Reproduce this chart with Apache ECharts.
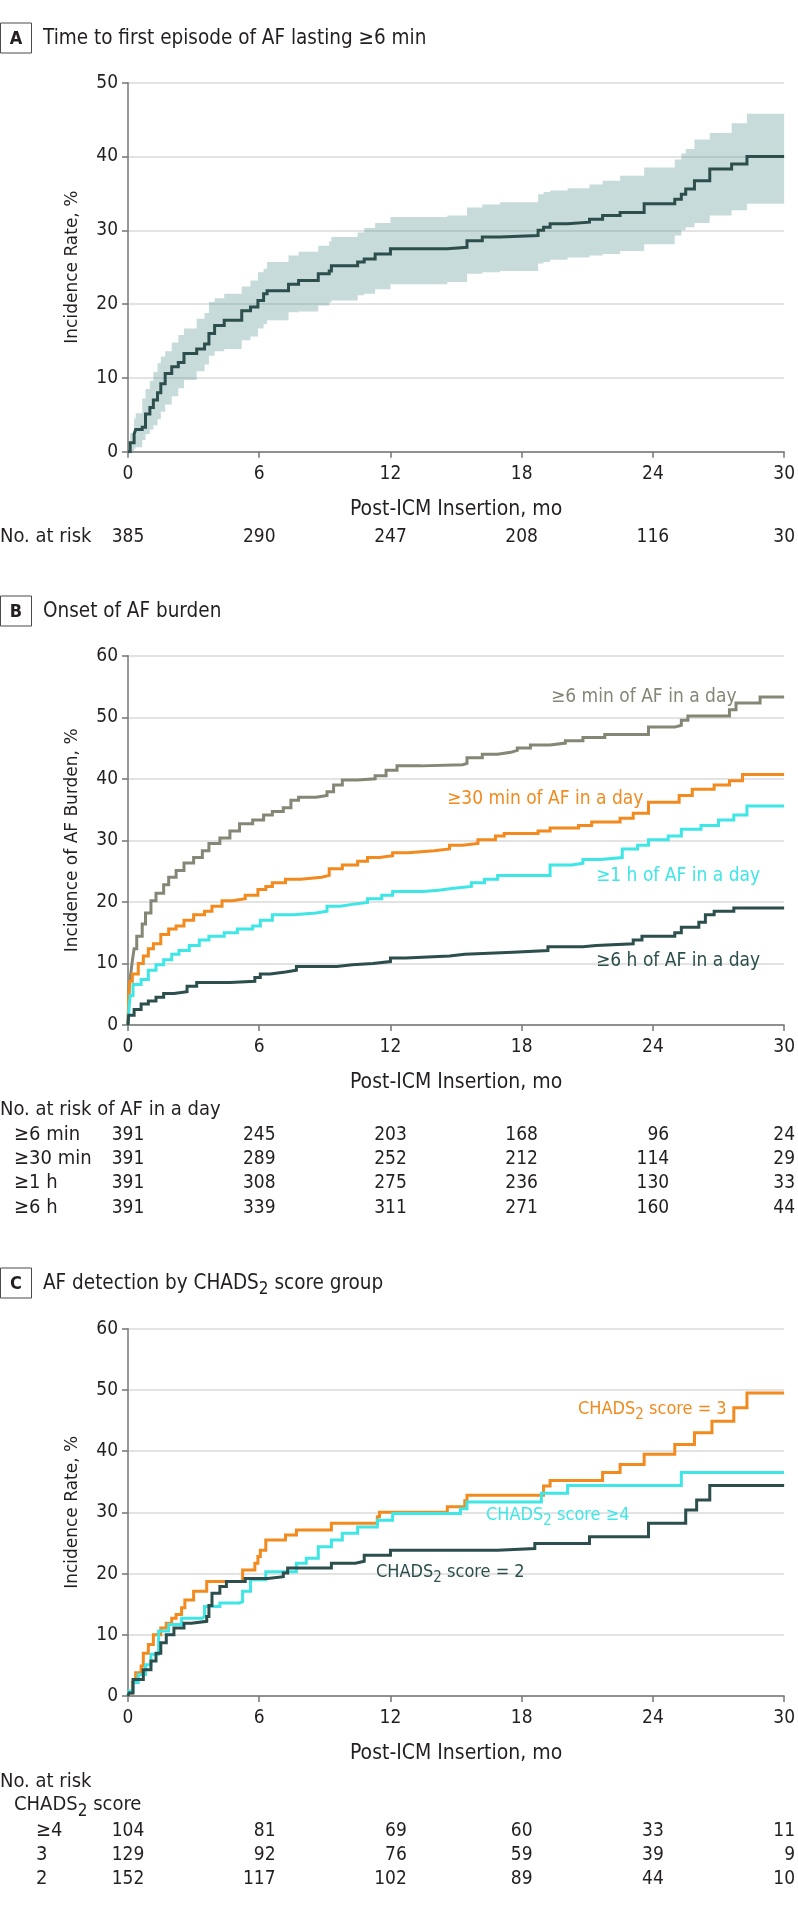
<!DOCTYPE html>
<html><head><meta charset="utf-8">
<script src="https://cdn.jsdelivr.net/npm/echarts@6/dist/echarts.min.js"></script>
<style>html,body{margin:0;padding:0;background:#fff}#c{width:798px;height:1908px}</style>
</head><body><div id="c"></div>
<script>
// ---------- data ----------
const xTicks = [0, 6, 12, 18, 24, 30];

// Panel A: time to first AF episode >=6 min (line + 95% CI band)
const aTime = [0, 0.1, 0.28, 0.35, 0.65, 0.8, 1.0, 1.16, 1.35, 1.5, 1.7, 2.0, 2.3, 2.56, 3.14, 3.5, 3.7, 3.96, 4.4, 5.2, 5.6, 5.94, 6.2, 6.36, 7.34, 7.8, 8.7, 9.2, 9.3, 10.5, 10.8, 11.3, 12.0, 14.6, 15.5, 16.2, 17.0, 18.75, 19.0, 19.3, 20.1, 21.1, 21.7, 22.5, 23.6, 25.0, 25.3, 25.5, 25.9, 26.6, 27.6, 28.3, 30];
const aRate = [0, 1.2, 2.4, 3.0, 3.3, 5.1, 6.0, 7.0, 8.0, 9.2, 10.6, 11.5, 12.1, 13.3, 13.9, 14.6, 16.0, 17.1, 17.8, 19.1, 19.6, 20.5, 21.4, 21.8, 22.7, 23.2, 24.1, 24.5, 25.2, 25.7, 26.1, 26.8, 27.5, 27.7, 28.6, 29.1, 29.3, 30.0, 30.4, 30.9, 31.1, 31.5, 32.0, 32.4, 33.6, 34.2, 34.9, 35.6, 36.7, 38.3, 39.0, 40.0, 40.0];
const aLower = [0, 0.1, 0.4, 0.6, 1.6, 2.4, 3.0, 3.6, 4.4, 5.4, 6.4, 7.5, 8.6, 9.7, 10.9, 11.8, 13.0, 13.6, 13.9, 15.1, 15.6, 16.7, 17.3, 17.8, 18.9, 19.0, 19.8, 20.2, 20.5, 21.2, 21.4, 22.0, 22.7, 23.0, 24.1, 24.3, 24.5, 25.5, 25.7, 26.0, 26.3, 26.6, 26.8, 27.2, 28.1, 29.3, 30.0, 30.4, 31.0, 32.0, 32.7, 33.6, 33.6];
const aUpper = [0, 2.5, 4.5, 5.2, 7.2, 8.5, 9.6, 10.8, 12.0, 12.9, 13.6, 14.8, 15.8, 16.7, 18.0, 18.8, 20.3, 20.8, 21.4, 22.4, 23.2, 24.3, 24.8, 25.7, 26.6, 27.1, 27.9, 28.5, 29.1, 29.7, 30.3, 31.0, 31.8, 32.0, 33.1, 33.5, 33.8, 34.9, 35.2, 35.4, 35.7, 36.2, 36.7, 37.4, 38.5, 39.6, 40.4, 41.0, 42.3, 43.2, 44.5, 45.8, 45.8];
const aRisk = [385, 290, 247, 208, 116, 30];

// Panel B: onset of AF burden
const bMin6Time = [0, 0.03, 0.06, 0.15, 0.2, 0.28, 0.4, 0.65, 0.8, 1.05, 1.28, 1.63, 1.86, 2.2, 2.56, 3.0, 3.4, 3.7, 4.2, 4.66, 5.1, 5.7, 6.2, 6.6, 7.1, 7.45, 7.8, 8.6, 9.1, 9.4, 9.8, 10.5, 11.3, 11.8, 12.3, 13.4, 15.3, 15.5, 16.2, 16.9, 17.5, 17.8, 18.4, 19.3, 20.0, 20.8, 21.8, 23.8, 25.0, 25.3, 25.6, 27.5, 27.8, 28.9, 30];
const bMin6 = [0, 3, 6.6, 9, 10.5, 12.4, 14.4, 16.4, 18.2, 20.2, 21.4, 22.8, 24.0, 25.1, 26.3, 27.2, 28.3, 29.5, 30.4, 31.5, 32.7, 33.3, 34.1, 34.7, 35.3, 36.5, 37.0, 37.3, 37.9, 39.0, 39.8, 40.0, 40.5, 41.4, 42.1, 42.3, 42.5, 43.4, 44.0, 44.3, 44.6, 45.0, 45.5, 45.8, 46.2, 46.7, 47.2, 48.4, 48.7, 49.5, 50.2, 51.2, 52.3, 53.3, 53.3];
const bMin30Time = [0, 0.03, 0.08, 0.2, 0.47, 0.7, 0.93, 1.16, 1.5, 1.86, 2.2, 2.56, 3.0, 3.5, 3.84, 4.3, 4.78, 5.36, 5.94, 6.3, 6.6, 7.2, 7.9, 8.85, 9.2, 9.8, 10.5, 10.95, 11.5, 12.1, 12.8, 14.0, 14.7, 15.3, 16.0, 16.8, 17.2, 18.75, 19.3, 20.6, 21.2, 22.5, 23.1, 23.8, 25.2, 25.8, 26.8, 27.5, 28.1, 30];
const bMin30 = [0, 5, 7.1, 8.3, 10, 11.2, 12.4, 13.2, 14.7, 15.6, 16.1, 17.0, 17.9, 18.5, 19.3, 20.2, 20.5, 21.1, 22.0, 22.5, 23.1, 23.7, 24.0, 24.3, 25.4, 26.0, 26.6, 27.2, 27.5, 28.0, 28.3, 28.6, 29.2, 29.5, 30.1, 30.7, 31.1, 31.5, 32.0, 32.4, 33.0, 33.6, 34.4, 36.2, 37.3, 38.3, 39.0, 39.7, 40.7, 40.7];
const bH1Time = [0, 0.05, 0.1, 0.23, 0.6, 0.93, 1.28, 1.63, 2.0, 2.33, 2.8, 3.26, 3.7, 4.4, 5.0, 5.7, 6.05, 6.6, 7.57, 8.6, 9.1, 9.7, 10.25, 10.95, 11.6, 12.1, 13.5, 14.2, 14.9, 15.7, 16.3, 16.9, 19.3, 20.3, 20.8, 21.6, 22.6, 23.3, 23.8, 24.7, 25.3, 26.2, 27.0, 27.7, 28.3, 30];
const bH1 = [0, 3, 4.8, 6.6, 7.4, 8.9, 9.8, 10.6, 11.5, 12.1, 12.9, 13.8, 14.4, 15.0, 15.6, 16.1, 17.0, 17.9, 18.2, 18.5, 19.3, 19.6, 19.9, 20.5, 21.1, 21.7, 21.9, 22.2, 22.5, 23.1, 23.7, 24.3, 26.0, 26.3, 26.9, 27.2, 28.6, 29.2, 30.1, 30.7, 31.8, 32.4, 33.3, 34.1, 35.6, 35.6];
const bH6Time = [0, 0.03, 0.28, 0.6, 0.93, 1.28, 1.63, 2.1, 2.7, 3.14, 4.66, 5.8, 6.05, 6.5, 7.2, 7.7, 9.55, 10.25, 11.2, 12.0, 12.7, 14.7, 15.4, 17.6, 19.2, 20.8, 21.4, 23.1, 23.5, 25.0, 25.3, 26.1, 26.4, 26.8, 27.7, 30];
const bH6 = [0, 1.6, 2.5, 3.4, 3.9, 4.5, 5.1, 5.4, 6.3, 6.9, 7.1, 7.7, 8.3, 8.6, 8.9, 9.5, 9.8, 10.0, 10.3, 10.9, 11.2, 11.5, 11.8, 12.1, 12.7, 12.9, 13.2, 13.8, 14.4, 15.0, 15.9, 16.7, 17.9, 18.5, 19.0, 19.0];
const bRiskMin6 = [391, 245, 203, 168, 96, 24];
const bRiskMin30 = [391, 289, 252, 212, 114, 29];
const bRiskH1 = [391, 308, 275, 236, 130, 33];
const bRiskH6 = [391, 339, 311, 271, 160, 44];
const bRowLabels = ['≥6 min', '≥30 min', '≥1 h', '≥6 h'];

// Panel C: AF detection by CHADS2 score group
const cS3Time = [0, 0.05, 0.2, 0.35, 0.6, 0.7, 0.93, 1.16, 1.5, 1.75, 2.0, 2.2, 2.45, 2.6, 3.0, 3.6, 5.24, 5.8, 5.94, 6.05, 6.3, 7.2, 7.7, 9.3, 11.4, 11.5, 14.6, 15.4, 15.5, 19.0, 19.3, 21.7, 22.5, 23.6, 25.0, 25.9, 26.7, 27.7, 28.3, 30];
const cS3 = [0, 0.5, 2.2, 3.8, 4.9, 7.0, 8.4, 10.0, 11.1, 11.9, 12.7, 13.3, 14.4, 15.7, 17.1, 18.7, 20.6, 21.7, 22.8, 23.8, 25.5, 26.3, 27.1, 28.2, 29.3, 30.0, 30.9, 31.9, 32.8, 34.3, 35.2, 36.5, 37.8, 39.5, 41.1, 43.0, 44.9, 47.1, 49.5, 49.5];
const cS4Time = [0, 0.05, 0.23, 0.47, 0.8, 1.05, 1.4, 1.86, 2.45, 3.4, 3.5, 4.2, 5.1, 5.24, 5.6, 6.3, 7.7, 8.15, 8.7, 9.3, 9.8, 10.5, 11.4, 12.1, 15.2, 15.5, 18.9, 20.1, 25.3, 30];
const cS4 = [0, 0.8, 2.2, 3.5, 5.1, 6.8, 10.6, 11.7, 12.7, 13.0, 14.6, 15.2, 15.4, 17.1, 19.0, 20.3, 21.7, 22.5, 24.4, 25.5, 26.6, 27.6, 28.7, 29.8, 30.6, 31.7, 33.1, 34.4, 36.5, 36.5];
const cS2Time = [0, 0.05, 0.23, 0.7, 1.05, 1.28, 1.5, 1.75, 2.1, 2.56, 2.9, 3.6, 3.7, 3.84, 4.2, 4.5, 5.36, 6.4, 7.1, 7.3, 9.3, 10.4, 10.8, 12.0, 16.9, 18.6, 21.1, 23.8, 25.5, 26.0, 26.6, 30];
const cS2 = [0, 0.5, 2.7, 4.3, 5.7, 7.0, 8.7, 10.0, 11.1, 11.9, 12.2, 13.0, 14.8, 16.8, 17.9, 18.7, 19.2, 19.5, 20.1, 20.9, 21.7, 22.0, 23.0, 23.8, 24.1, 24.9, 26.0, 28.2, 30.4, 32.0, 34.4, 34.4];
const cRiskS4 = [104, 81, 69, 60, 33, 11];
const cRiskS3 = [129, 92, 76, 59, 39, 9];
const cRiskS2 = [152, 117, 102, 89, 44, 10];
const cRowLabels = ['≥4', '3', '2'];

// ---------- style ----------
const COND = "'DejaVu Sans Condensed','Roboto Condensed',sans-serif";
const WIDE = "'DejaVu Sans',Verdana,sans-serif";
const INK = '#231f20';
const AXC = '#767676';
const C_DARK = '#2c4e4d', C_GRAY = '#858675', C_OR = '#f28a1e', C_CY = '#3fe6e6';
const FS_TICK = 19, FS_NUM = 19, FS_NAME = 21, FS_TITLE = 20.5, FS_LAB = 19, FS_LABC = 18, FS_ROW = 20;

function zip(t, v) { return t.map((x, i) => [x, v[i]]); }

const chart = echarts.init(document.getElementById('c'), null, { renderer: 'canvas' });

function xAxis(i) {
  return { type: 'value', gridIndex: i, min: 0, max: 30, interval: 6,
    name: 'Post-ICM Insertion, mo', nameLocation: 'middle', nameGap: 47,
    nameTextStyle: { fontFamily: COND, fontSize: FS_NAME, color: INK },
    axisLine: { show: true, onZero: false, lineStyle: { color: AXC, width: 1.5 } },
    axisTick: { show: true, length: 6, lineStyle: { color: AXC, width: 1.5 } },
    axisLabel: { fontFamily: COND, fontSize: FS_TICK, color: INK, margin: 13 },
    splitLine: { show: false } };
}
function yAxis(i, max, name) {
  return { type: 'value', gridIndex: i, min: 0, max: max, interval: 10,
    name: name, nameLocation: 'middle', nameGap: 47,
    nameTextStyle: { fontFamily: WIDE, fontSize: 17, color: INK },
    axisLine: { show: true, lineStyle: { color: AXC, width: 1.5 } },
    axisTick: { show: true, length: 6, lineStyle: { color: AXC, width: 1.5 } },
    axisLabel: { fontFamily: COND, fontSize: FS_TICK, color: INK, margin: 10 },
    splitLine: { show: true, lineStyle: { color: '#dadada', width: 1.5 } } };
}
function stepLine(gi, data, color, width, z) {
  return { type: 'line', xAxisIndex: gi, yAxisIndex: gi, data: data, step: 'end',
    symbol: 'none', silent: true, z: z || 3,
    lineStyle: { color: color, width: width, join: 'miter', cap: 'butt' } };
}

// confidence band drawn as a stepped polygon through the axis scales
const bandSeries = {
  type: 'custom', xAxisIndex: 0, yAxisIndex: 0, silent: true, z: 2, clip: true,
  data: [[0, 0]],
  renderItem: function (params, api) {
    const up = [], lo = [];
    for (let i = 0; i < aTime.length; i++) {
      const t0 = aTime[i], t1 = i + 1 < aTime.length ? aTime[i + 1] : aTime[i];
      up.push(api.coord([t0, aUpper[i]]), api.coord([t1, aUpper[i]]));
      lo.push(api.coord([t0, aLower[i]]), api.coord([t1, aLower[i]]));
    }
    return { type: 'polygon', shape: { points: up.concat(lo.reverse()) },
      style: { fill: '#5f9595', opacity: 0.34 } };
  }
};

const option = {
  animation: false,
  backgroundColor: '#fff',
  grid: [
    { left: 128, top: 82.7, width: 659, height: 369 },
    { left: 128, top: 655.7, width: 659, height: 369.3 },
    { left: 128, top: 1328.7, width: 659, height: 367.3 }
  ],
  xAxis: [xAxis(0), xAxis(1), xAxis(2)],
  yAxis: [yAxis(0, 50, 'Incidence Rate, %'), yAxis(1, 60, 'Incidence of AF Burden, %'), yAxis(2, 60, 'Incidence Rate, %')],
  series: [
    bandSeries,
    stepLine(0, zip(aTime, aRate), C_DARK, 3, 4),
    stepLine(1, zip(bMin6Time, bMin6), C_GRAY, 3),
    stepLine(1, zip(bMin30Time, bMin30), C_OR, 3),
    stepLine(1, zip(bH1Time, bH1), C_CY, 3),
    stepLine(1, zip(bH6Time, bH6), C_DARK, 3),
    stepLine(2, zip(cS3Time, cS3), C_OR, 3),
    stepLine(2, zip(cS4Time, cS4), C_CY, 3),
    stepLine(2, zip(cS2Time, cS2), C_DARK, 3)
  ]
};
chart.setOption(option);

// ---------- text overlays (titles, labels, at-risk tables) ----------
const mctx = document.createElement('canvas').getContext('2d');
mctx.font = FS_NUM + 'px ' + COND;
function tw(s) { return mctx.measureText(String(s)).width; }

const G = [];
function txt(x, y, text, opts) {
  opts = opts || {};
  G.push({ type: 'text', x: x, y: y, silent: true, z: 100,
    style: { text: text, fill: opts.fill || INK, align: opts.align || 'left', verticalAlign: 'middle',
      font: (opts.weight || 'normal') + ' ' + (opts.size || FS_ROW) + 'px ' + (opts.family || COND) } });
}
// text with subscripts: parts = [[text, isSub], ...]
function subTxt(x, y, parts, opts) {
  opts = opts || {};
  const fill = opts.fill || INK, size = opts.size || FS_ROW;
  const sSize = Math.round(size * 0.85);
  const L = Math.round(size / 2 + 6 + sSize / 2);
  const rich = {
    a: { fontFamily: COND, fontSize: size, fill: fill, lineHeight: L, verticalAlign: 'top' },
    s: { fontFamily: COND, fontSize: sSize, fill: fill, lineHeight: L, verticalAlign: 'bottom' }
  };
  const text = parts.map(p => '{' + (p[1] ? 's' : 'a') + '|' + p[0] + '}').join('');
  G.push({ type: 'text', x: x, y: y + (L / 2 - size / 2), silent: true, z: 100,
    style: { text: text, rich: rich, fill: fill, align: opts.align || 'left', verticalAlign: 'middle',
      font: size + 'px ' + COND } });
}
function panelTitle(y, letter, parts) {
  G.push({ type: 'rect', silent: true, z: 100, shape: { x: 0.5, y: y - 15, width: 31, height: 30 },
    style: { fill: '#fff', stroke: '#4a4a4a', lineWidth: 1 } });
  txt(16, y + 1, letter, { weight: 'bold', size: 18, align: 'center' });
  subTxt(43, y, parts, { size: FS_TITLE });
}
function table(gi, rows, yRows) {
  for (let j = 0; j < xTicks.length; j++) {
    const px = chart.convertToPixel({ xAxisIndex: gi }, xTicks[j]);
    const col = rows.map(r => r[j]);
    const right = px + Math.max.apply(null, col.map(tw)) / 2;
    col.forEach((v, r) => txt(right, yRows[r], String(v), { align: 'right', size: FS_NUM }));
  }
}

panelTitle(38, 'A', [['Time to first episode of AF lasting ≥6 min', false]]);
txt(0, 537, 'No. at risk');
table(0, [aRisk], [537]);

panelTitle(611, 'B', [['Onset of AF burden', false]]);
txt(551, 697, '≥6 min of AF in a day', { fill: C_GRAY, size: FS_LAB });
txt(447, 799, '≥30 min of AF in a day', { fill: C_OR, size: FS_LAB });
txt(596, 876, '≥1 h of AF in a day', { fill: C_CY, size: FS_LAB });
txt(596, 961, '≥6 h of AF in a day', { fill: C_DARK, size: FS_LAB });
txt(0, 1110, 'No. at risk of AF in a day');
const bRows = [1135, 1159, 1183, 1208];
bRowLabels.forEach((l, i) => txt(14, bRows[i], l));
table(1, [bRiskMin6, bRiskMin30, bRiskH1, bRiskH6], bRows);

panelTitle(1283, 'C', [['AF detection by CHADS', false], ['2', true], [' score group', false]]);
subTxt(578, 1409, [['CHADS', false], ['2', true], [' score = 3', false]], { fill: C_OR, size: FS_LABC });
subTxt(486, 1515, [['CHADS', false], ['2', true], [' score ≥4', false]], { fill: C_CY, size: FS_LABC });
subTxt(376, 1572, [['CHADS', false], ['2', true], [' score = 2', false]], { fill: C_DARK, size: FS_LABC });
txt(0, 1782, 'No. at risk');
subTxt(14, 1805, [['CHADS', false], ['2', true], [' score', false]]);
const cRows = [1831, 1855, 1879];
cRowLabels.forEach((l, i) => txt(36, cRows[i], l));
table(2, [cRiskS4, cRiskS3, cRiskS2], cRows);

chart.setOption({ graphic: { elements: G } });
</script>
</body></html>
